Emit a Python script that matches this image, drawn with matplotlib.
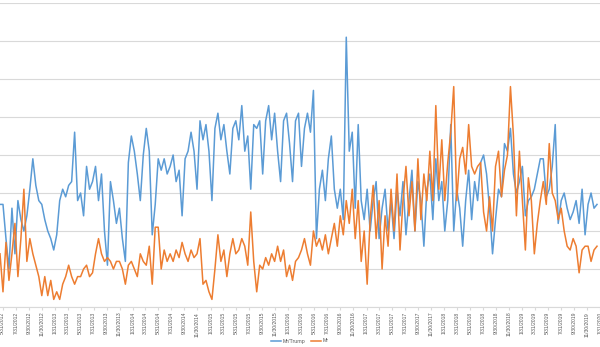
import matplotlib
matplotlib.use("Agg")
import matplotlib.pyplot as plt
import numpy as np
import pandas as pd

# two-weekly readings, starting mid May 2012
start = np.datetime64('2012-05-18')
step_days = 14

mr_trump = [27, 27, 18, 10, 26, 14, 28, 23, 20, 24,
            31, 39, 32, 28, 27, 23, 20, 18, 15, 19,
            28, 31, 29, 32, 33, 46, 28, 30, 24, 37,
            31, 33, 37, 28, 35, 20, 11, 33, 28, 22,
            26, 18, 12, 38, 45, 41, 35, 28, 40, 47,
            41, 19, 27, 39, 36, 39, 35, 37, 40, 33,
            36, 24, 39, 41, 46, 41, 31, 49, 44, 48,
            41, 28, 47, 51, 44, 48, 41, 35, 47, 49,
            44, 53, 41, 45, 31, 48, 47, 49, 35, 49,
            53, 44, 51, 41, 33, 49, 51, 43, 33, 49,
            51, 37, 47, 51, 46, 57, 18, 31, 36, 28,
            39, 45, 31, 26, 31, 23, 71, 41, 46, 26,
            48, 28, 23, 31, 20, 28, 33, 18, 26, 31,
            20, 28, 18, 31, 24, 33, 19, 28, 36, 20,
            33, 28, 16, 31, 35, 23, 39, 28, 33, 20,
            28, 48, 20, 31, 26, 16, 28, 36, 23, 33,
            28, 38, 40, 35, 26, 14, 23, 31, 29, 43,
            41, 47, 35, 30, 33, 37, 24, 28, 29, 31,
            35, 39, 39, 29, 31, 37, 48, 22, 28, 30,
            26, 23, 25, 28, 22, 31, 19, 27, 30, 26,
            27]

mr = [14, 4, 17, 7, 14, 22, 8, 18, 31, 12,
      18, 14, 11, 8, 3, 8, 3, 7, 2, 4,
      2, 6, 8, 11, 8, 6, 8, 8, 10, 11,
      8, 9, 14, 18, 14, 12, 13, 12, 10, 12,
      12, 10, 6, 11, 12, 10, 8, 14, 12, 11,
      16, 6, 21, 21, 10, 15, 12, 14, 12, 15,
      13, 17, 14, 12, 15, 13, 14, 18, 6, 7,
      4, 2, 10, 19, 12, 15, 8, 14, 18, 14,
      15, 18, 16, 11, 25, 12, 4, 11, 10, 13,
      11, 14, 12, 16, 12, 15, 8, 11, 7, 12,
      13, 15, 18, 14, 11, 20, 16, 18, 15, 19,
      14, 18, 22, 16, 24, 19, 28, 22, 31, 18,
      28, 12, 20, 6, 23, 32, 18, 28, 10, 24,
      16, 31, 20, 35, 15, 28, 37, 24, 33, 20,
      39, 23, 35, 28, 41, 28, 53, 31, 44, 28,
      38, 46, 58, 28, 39, 42, 35, 48, 37, 35,
      37, 38, 25, 20, 29, 20, 37, 41, 29, 36,
      40, 58, 45, 24, 41, 28, 15, 34, 28, 14,
      22, 28, 33, 27, 43, 30, 28, 23, 26, 20,
      16, 15, 18, 16, 9, 15, 16, 16, 12, 15,
      16]

dates = start + np.arange(len(mr_trump)) * np.timedelta64(step_days, 'D')
ticks = pd.date_range('2012-05-31', '2020-02-29', freq='2ME')
tick_labels = [f"{d.month}/{d.day}/{d.year}" for d in ticks]

plt.rcParams['font.family'] = 'Liberation Sans'

fig = plt.figure(figsize=(6, 3.47), dpi=100)
ax = fig.add_axes([0, 1 - 307/347, 1, 304/347])

ax.plot(dates, mr_trump, color='#5B9BD5', lw=1.1, label='Mr/Trump')
ax.plot(dates, mr, color='#ED7D31', lw=1.1, label='Mr')

ax.set_ylim(0, 80)
ax.set_yticks(np.arange(0, 81, 10))
ax.yaxis.grid(True, color='#d9d9d9', lw=0.8)
ax.set_axisbelow(True)
ax.tick_params(axis='y', left=False, labelleft=False)

ax.set_xlim(start, start + np.timedelta64(2813, 'D'))
ax.set_xticks(ticks)
ax.set_xticklabels(tick_labels, rotation=90, fontsize=3.6, color='#595959')
ax.tick_params(axis='x', length=2, color='#d9d9d9', pad=1.5)

for s in ['top', 'left', 'right']:
    ax.spines[s].set_visible(False)
ax.spines['bottom'].set_color('#d9d9d9')

fig.legend(loc='center', bbox_to_anchor=(0.5, 1 - 341/347), ncol=2, frameon=False,
           fontsize=3.8, labelcolor='#595959', handlelength=1.8, handletextpad=0.4,
           columnspacing=1.0, borderpad=0, borderaxespad=0)

fig.savefig('out.png', dpi=100)
